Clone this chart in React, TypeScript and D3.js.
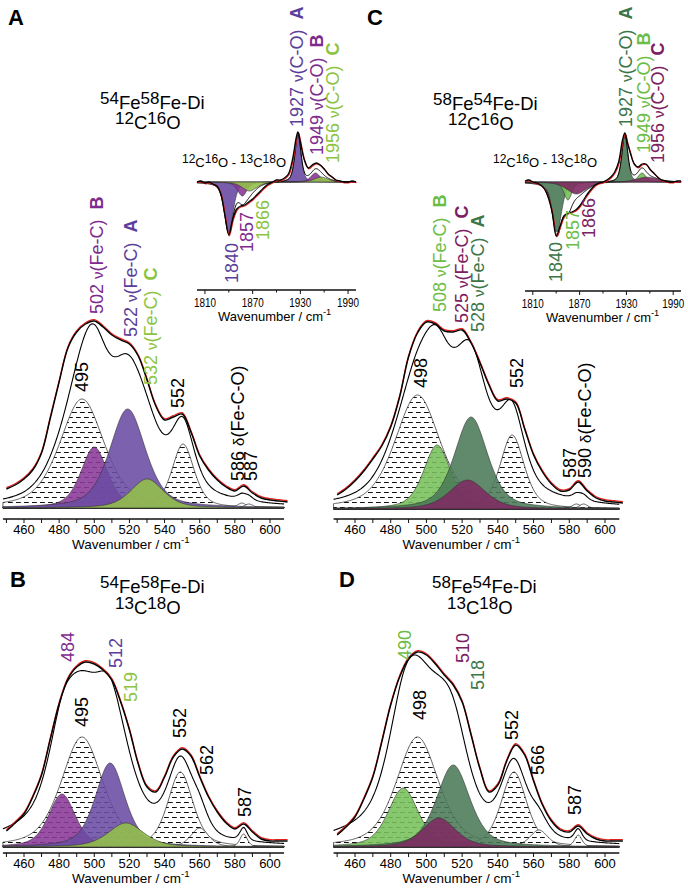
import React from "react";
import * as d3 from "d3";

const FONT = '"Liberation Sans", Arial, Helvetica, sans-serif';

// ---------------- Main spectra (wavenumber cm-1, intensity a.u.) ----------------
const mainWn = [450, 455, 460, 465, 470, 475, 480, 485, 490, 495, 500, 505, 510, 515, 520, 525, 530, 535, 540, 545, 550, 555, 560, 565, 570, 575, 580, 585, 590, 595, 600, 605, 610];
const spectrumA = [19, 23, 29, 38, 55, 90, 126, 160, 176, 184, 187, 181, 173, 168, 164, 152, 128, 102, 88, 91, 94, 76, 52, 38, 28, 21, 17, 22, 15, 10, 8, 7, 6];
const spectrumB = [16, 24, 33, 50, 72, 108, 143, 168, 180, 185, 183, 177, 167, 145, 117, 83, 60, 55, 70, 90, 98, 91, 70, 50, 35, 24, 18, 23, 15, 8, 6, 6, 6];
const spectrumC = [14, 20, 28, 38, 50, 63, 82, 112, 152, 176, 187, 185, 178, 177, 179, 166, 146, 124, 108, 110, 106, 80, 54, 37, 25, 18, 19, 27, 18, 11, 8, 7, 6];
const spectrumD = [12, 20, 30, 48, 70, 105, 142, 170, 188, 195, 192, 183, 172, 162, 145, 112, 78, 55, 62, 86, 102, 92, 66, 42, 26, 17, 15, 21, 13, 8, 6, 6, 6];

// ---------------- Fitted components: [centre cm-1, height, half-width] ----------------
const fitA_hatched = [[493, 109, 15], [550.5, 64, 7.5], [584, 5, 3], [588, 4, 3]];
const fitA_speciesA = [[519, 99, 12]];
const fitA_speciesB = [[500, 61, 9]];
const fitA_speciesC = [[530, 29, 11]];
const fitA_background = [[535, 14, 30]];

const fitB_hatched = [[493, 110, 14], [549, 75, 8.5], [560, 19, 6], [585, 13, 2.5]];
const fitB_speciesA = [[509, 84, 10]];
const fitB_speciesB = [[481.6, 53, 9]];
const fitB_speciesC = [[518, 24, 12]];
const fitB_background = [[490, 25, 35]];

const fitC_hatched = [[495, 114, 15], [548, 74, 8], [584, 5, 3], [588, 5, 3]];
const fitC_speciesA = [[525, 92, 11]];
const fitC_speciesB = [[506, 64, 9]];
const fitC_speciesC = [[523, 29, 12]];
const fitC_background = [[525, 20, 35]];

const fitD_hatched = [[495, 110, 14], [549, 75, 8.5], [563, 17, 6], [585, 12, 2.5]];
const fitD_speciesA = [[515, 82, 11]];
const fitD_speciesB = [[487, 59, 10]];
const fitD_speciesC = [[507, 29, 11]];
const fitD_background = [[485, 18, 35]];

// ---------------- Inset difference spectra (12C16O - 13C18O) ----------------
const insetWnA = [1800, 1805, 1810, 1815, 1820, 1825, 1830, 1835, 1840, 1845, 1850, 1855, 1860, 1865, 1870, 1875, 1880, 1885, 1890, 1895, 1900, 1905, 1910, 1915, 1920, 1925, 1927, 1930, 1935, 1940, 1945, 1950, 1955, 1960, 1965, 1970, 1975, 1980, 1985, 1990, 1995, 2000];
const insetSpecA = [0, 1, -1, 0, -2, -4, -12, -33, -53, -37, -27, -24, -23, -20, -17, -13, -9, -5, -2, 0, 2, 2, 4, 8, 22, 45, 50, 40, 22, 14, 17, 19, 17, 13, 8, 5, 2, 1, 0, 0, 1, 0];
const insetWnC = [1800, 1805, 1810, 1815, 1820, 1825, 1830, 1835, 1840, 1845, 1850, 1855, 1860, 1865, 1870, 1875, 1880, 1885, 1890, 1895, 1900, 1905, 1910, 1915, 1920, 1925, 1928, 1931, 1935, 1940, 1945, 1950, 1955, 1960, 1965, 1970, 1975, 1980, 1985, 1990, 1995, 2000];
const insetSpecC = [1, 2, 0, -1, -3, -7, -16, -31, -54, -44, -34, -31, -30, -28, -24, -18, -12, -7, -3, -1, 0, 2, 5, 10, 20, 42, 49, 40, 29, 18, 15, 18, 18, 13, 9, 5, 2, 1, 0, 0, 1, 1];

const insetA_speciesA = [[1927, 48, 4.5], [1840, -50, 6.5]];
const insetA_speciesB = [[1949, 9, 7], [1857, -14, 7]];
const insetA_speciesC = [[1956, 5, 10], [1866, -9, 11]];
const insetC_speciesA = [[1928, 47, 4.5], [1841, -50, 7]];
const insetC_speciesB = [[1950, 9, 6], [1855, -18, 6]];
const insetC_speciesC = [[1956, 5, 16], [1866, -12, 15]];

// ---------------- Tick labels ----------------
const mainTickLabels = [460, 480, 500, 520, 540, 560, 580, 600];
const mainMinorTicks = [450, 470, 490, 510, 530, 550, 570, 590];
const insetTickLabels = [1810, 1870, 1930, 1990];
const insetMinorTicks = [1840, 1900, 1960];

// ---------------- Peak labels ----------------
type LabelSpec = { num: string; sym?: string; mode?: string; tag?: string; key: string };
const labelsA: LabelSpec[] = [
  { num: "502", sym: "ν", mode: "(Fe-C)", tag: "B", key: "B" },
  { num: "522", sym: "ν", mode: "(Fe-C)", tag: "A", key: "A" },
  { num: "532", sym: "ν", mode: "(Fe-C)", tag: "C", key: "C" },
  { num: "495", key: "K" },
  { num: "552", key: "K" },
  { num: "586", sym: "δ", mode: "(Fe-C-O)", key: "K" },
  { num: "587", key: "K" },
];
const labelsInsetA: LabelSpec[] = [
  { num: "1927", sym: "ν", mode: "(C-O)", tag: "A", key: "A" },
  { num: "1949", sym: "ν", mode: "(C-O)", tag: "B", key: "B" },
  { num: "1956", sym: "ν", mode: "(C-O)", tag: "C", key: "C" },
  { num: "1840", key: "A" },
  { num: "1857", key: "B" },
  { num: "1866", key: "C" },
];
const labelsC: LabelSpec[] = [
  { num: "508", sym: "ν", mode: "(Fe-C)", tag: "B", key: "B" },
  { num: "525", sym: "ν", mode: "(Fe-C)", tag: "C", key: "C" },
  { num: "528", sym: "ν", mode: "(Fe-C)", tag: "A", key: "A" },
  { num: "498", key: "K" },
  { num: "552", key: "K" },
  { num: "587", key: "K" },
  { num: "590", sym: "δ", mode: "(Fe-C-O)", key: "K" },
];
const labelsInsetC: LabelSpec[] = [
  { num: "1927", sym: "ν", mode: "(C-O)", tag: "A", key: "A" },
  { num: "1949", sym: "ν", mode: "(C-O)", tag: "B", key: "B" },
  { num: "1956", sym: "ν", mode: "(C-O)", tag: "C", key: "C" },
  { num: "1840", key: "A" },
  { num: "1857", key: "B" },
  { num: "1866", key: "C" },
];
const labelsB: LabelSpec[] = [
  { num: "484", key: "B" }, { num: "512", key: "A" }, { num: "519", key: "C" },
  { num: "495", key: "K" }, { num: "552", key: "K" }, { num: "562", key: "K" }, { num: "587", key: "K" },
];
const labelsD: LabelSpec[] = [
  { num: "490", key: "B" }, { num: "510", key: "C" }, { num: "518", key: "A" },
  { num: "498", key: "K" }, { num: "552", key: "K" }, { num: "566", key: "K" }, { num: "587", key: "K" },
];

// ---------------- Layout (label anchor: centre x, bottom y) ----------------
const posA = [[97, 314], [131, 337], [151, 385], [82, 392], [178, 408], [238, 481], [251, 481]];
const posInsetA = [[297, 127], [317, 155], [333, 163], [232, 283], [247, 252], [263, 240]];
const posC = [[440, 312], [462, 323], [478, 332], [421, 388], [517, 388], [570, 478], [585, 478]];
const posInsetC = [[626, 127], [644, 153], [658, 163], [556, 282], [573, 250], [589, 238]];
const posB = [[68, 662], [116, 668], [131, 702], [82, 727], [180, 738], [207, 775], [245, 817]];
const posD = [[405, 660], [463, 663], [478, 690], [420, 720], [512, 740], [538, 775], [575, 815]];

const textLeft: Record<string, string> = { A: "#5b3e99", B: "#7e2b8f", C: "#8cc43f", K: "#000" };
const textRight: Record<string, string> = { A: "#3c7548", B: "#6cbd46", C: "#7b2060", K: "#000" };
const fillLeft: Record<string, string> = { A: "#6a4ba3", B: "#8a3898", C: "#93c04a" };
const fillRight: Record<string, string> = { A: "#4a7a56", B: "#76c05a", C: "#7e2a62" };

type Peak = number[];
const pv = (x: number, p: Peak) => {
  const t = (x - p[0]) / p[2];
  return p[1] * (0.5 / (1 + t * t) + 0.5 * Math.exp(-Math.LN2 * t * t));
};
const sumAt = (x: number, peaks: Peak[]) => peaks.reduce((s, p) => s + pv(x, p), 0);

function RotLabel({ x, y, spec, color }: { x: number; y: number; spec: LabelSpec; color: string }) {
  return (
    <text transform={`translate(${x},${y}) rotate(-90)`} dominantBaseline="central" fill={color} fontSize={18} fontFamily={FONT}>
      {spec.num}
      {spec.sym && <tspan dx={5} fontSize={15}>{spec.sym}</tspan>}
      {spec.mode && <tspan>{spec.mode}</tspan>}
      {spec.tag && <tspan dx={10} fontWeight="bold">{spec.tag}</tspan>}
    </text>
  );
}

function Chem({ x, y, tokens, big, small, rise }: { x: number; y: number; tokens: string[]; big: number; small: number; rise: number }) {
  let cur = 0;
  return (
    <text x={x} y={y} fontSize={big} fontFamily={FONT} style={{ whiteSpace: "pre" }}>
      {tokens.map((t, i) => {
        const sup = /^\d+$/.test(t);
        const target = sup ? -rise : 0;
        const dy = target - cur;
        cur = target;
        return (
          <tspan key={i} dy={dy} fontSize={sup ? small : big}>{t}</tspan>
        );
      })}
    </text>
  );
}

function AxisTitle({ x, y, size }: { x: number; y: number; size: number }) {
  return (
    <text x={x} y={y} fontSize={size} fontFamily={FONT}>
      Wavenumber / cm<tspan dy={-6} fontSize={size * 0.72}>-1</tspan>
    </text>
  );
}

function MainPanel(props: {
  xs: d3.ScaleLinear<number, number>; y0: number; axisY: number;
  spec: number[]; hatched: Peak[]; species: { peaks: Peak[]; key: string }[]; background: Peak[];
  fills: Record<string, string>; colors: Record<string, string>;
  labels: LabelSpec[]; pos: number[][];
}) {
  const { xs, y0, axisY, spec, hatched, species, background, fills, colors, labels, pos } = props;
  const ys = d3.scaleLinear().domain([0, 200]).range([y0, y0 - 200]);
  const grid = d3.range(448, 608.01, 0.5);
  const areaOf = (peaks: Peak[]) =>
    d3.area<number>().x((w) => xs(w)).y0(ys(0)).y1((w) => ys(sumAt(w, peaks)))(grid) || "";
  const all = [...hatched, ...species.flatMap((s) => s.peaks), ...background];
  const sumLine = d3.line<number>().x((w) => xs(w)).y((w) => ys(sumAt(w, all)))(grid) || "";
  const dataLine = d3.line<number>().x((_, i) => xs(mainWn[i])).y((v) => ys(v)).curve(d3.curveCatmullRom.alpha(0.5))(spec) || "";
  return (
    <g>
      {hatched.map((p, i) => (
        <path key={"h" + i} d={areaOf([p])} fill="url(#hatch)" stroke="#222" strokeWidth={0.7} />
      ))}
      {species.map((s, i) => (
        <path key={"s" + i} d={areaOf(s.peaks)} fill={fills[s.key]} fillOpacity={0.88} stroke="#333" strokeWidth={0.6} />
      ))}
      <path d={sumLine} fill="none" stroke="#000" strokeWidth={1.1} />
      <path d={dataLine} fill="none" stroke="#e3201b" strokeWidth={1.3} transform="translate(0,-1.3)" />
      <path d={dataLine} fill="none" stroke="#000" strokeWidth={1.4} />
      <line x1={xs(448)} x2={xs(608)} y1={axisY} y2={axisY} stroke="#111" strokeWidth={1.5} />
      {[...mainTickLabels, ...mainMinorTicks].map((t) => (
        <line key={"t" + t} x1={xs(t)} x2={xs(t)} y1={axisY} y2={axisY + 4} stroke="#111" strokeWidth={1} />
      ))}
      {mainTickLabels.map((t) => (
        <text key={"l" + t} x={xs(t)} y={axisY + 15} textAnchor="middle" fontSize={13} fontFamily={FONT}>{t}</text>
      ))}
      <AxisTitle x={xs(448) + 69} y={axisY + 30} size={13.5} />
      {labels.map((l, i) => (
        <RotLabel key={"lab" + i} x={pos[i][0]} y={pos[i][1]} spec={l} color={colors[l.key]} />
      ))}
    </g>
  );
}

function Inset(props: {
  xs: d3.ScaleLinear<number, number>; y0: number; axisY: number;
  wn: number[]; spec: number[]; species: { peaks: Peak[]; key: string }[];
  fills: Record<string, string>; colors: Record<string, string>;
  labels: LabelSpec[]; pos: number[][]; noteX: number;
}) {
  const { xs, y0, axisY, wn, spec, species, fills, colors, labels, pos, noteX } = props;
  const ys = d3.scaleLinear().domain([-60, 60]).range([y0 + 60, y0 - 60]);
  const grid = d3.range(1800, 2000.01, 0.5);
  const areaOf = (peaks: Peak[]) =>
    d3.area<number>().x((w) => xs(w)).y0(ys(0)).y1((w) => ys(sumAt(w, peaks)))(grid) || "";
  const all = species.flatMap((s) => s.peaks);
  const sumLine = d3.line<number>().x((w) => xs(w)).y((w) => ys(sumAt(w, all)))(grid) || "";
  const dataLine = d3.line<number>().x((_, i) => xs(wn[i])).y((v) => ys(v)).curve(d3.curveCatmullRom.alpha(0.5))(spec) || "";
  return (
    <g>
      {species.map((s, i) => (
        <path key={"s" + i} d={areaOf(s.peaks)} fill={fills[s.key]} fillOpacity={0.9} stroke="#333" strokeWidth={0.6} />
      ))}
      <path d={sumLine} fill="none" stroke="#000" strokeWidth={1} />
      <path d={dataLine} fill="none" stroke="#e3201b" strokeWidth={1.2} transform="translate(0.6,0.8)" />
      <path d={dataLine} fill="none" stroke="#000" strokeWidth={1.3} />
      <line x1={xs(1800)} x2={xs(2000)} y1={axisY} y2={axisY} stroke="#111" strokeWidth={1.3} />
      {insetTickLabels.map((t) => (
        <line key={"t" + t} x1={xs(t)} x2={xs(t)} y1={axisY} y2={axisY + 4} stroke="#111" strokeWidth={1} />
      ))}
      {insetMinorTicks.map((t) => (
        <line key={"m" + t} x1={xs(t)} x2={xs(t)} y1={axisY} y2={axisY + 2.5} stroke="#111" strokeWidth={1} />
      ))}
      {insetTickLabels.map((t) => (
        <text key={"l" + t} x={xs(t)} y={axisY + 17} textAnchor="middle" fontSize={13} fontFamily={FONT}
          textLength={22} lengthAdjust="spacingAndGlyphs">{t}</text>
      ))}
      <AxisTitle x={xs(1800) + 21} y={axisY + 31} size={13} />
      <Chem x={noteX} y={y0 - 15} tokens={["12", "C", "16", "O", " - ", "13", "C", "18", "O"]} big={13} small={12} rise={4} />
      {labels.map((l, i) => (
        <RotLabel key={"lab" + i} x={pos[i][0]} y={pos[i][1]} spec={l} color={colors[l.key]} />
      ))}
    </g>
  );
}

export default function App() {
  const xsLeft = d3.scaleLinear().domain([460, 600]).range([24, 270]);
  const xsRight = d3.scaleLinear().domain([460, 600]).range([355, 605]);
  const xiA = d3.scaleLinear().domain([1800, 2000]).range([197, 356]);
  const xiC = d3.scaleLinear().domain([1800, 2000]).range([525, 681]);
  return (
    <svg width={688} height={893} style={{ position: "absolute", left: 0, top: 0, background: "#fff" }} fontFamily={FONT}>
      <defs>
        <pattern id="hatch" width={8} height={10} patternUnits="userSpaceOnUse">
          <rect width={8} height={10} fill="#fff" />
          <line x1={0} x2={4.8} y1={2.5} y2={2.5} stroke="#111" strokeWidth={1} />
          <line x1={4} x2={8.8} y1={7.5} y2={7.5} stroke="#111" strokeWidth={1} />
          <line x1={-0.5} x2={0.8} y1={7.5} y2={7.5} stroke="#111" strokeWidth={1} />
        </pattern>
      </defs>
      <rect width={688} height={893} fill="#fff" />

      {/* Panel letters */}
      <text x={8} y={25} fontSize={22} fontWeight="bold">A</text>
      <text x={367} y={25} fontSize={22} fontWeight="bold">C</text>
      <text x={10} y={587} fontSize={22} fontWeight="bold">B</text>
      <text x={339} y={587} fontSize={22} fontWeight="bold">D</text>

      {/* Titles */}
      <Chem x={100} y={109} tokens={["54", "Fe", "58", "Fe-Di"]} big={18.5} small={17} rise={5} />
      <Chem x={115} y={129} tokens={["12", "C", "16", "O"]} big={18.5} small={17} rise={5} />
      <Chem x={433} y={110} tokens={["58", "Fe", "54", "Fe-Di"]} big={18.5} small={17} rise={5} />
      <Chem x={448} y={130} tokens={["12", "C", "16", "O"]} big={18.5} small={17} rise={5} />
      <Chem x={100} y={593} tokens={["54", "Fe", "58", "Fe-Di"]} big={18.5} small={17} rise={5} />
      <Chem x={115} y={614} tokens={["13", "C", "18", "O"]} big={18.5} small={17} rise={5} />
      <Chem x={432} y={593} tokens={["58", "Fe", "54", "Fe-Di"]} big={18.5} small={17} rise={5} />
      <Chem x={447} y={614} tokens={["13", "C", "18", "O"]} big={18.5} small={17} rise={5} />

      <Inset xs={xiA} y0={182} axisY={290} wn={insetWnA} spec={insetSpecA}
        species={[{ peaks: insetA_speciesA, key: "A" }, { peaks: insetA_speciesB, key: "B" }, { peaks: insetA_speciesC, key: "C" }]}
        fills={fillLeft} colors={textLeft} labels={labelsInsetA} pos={posInsetA} noteX={182} />
      <Inset xs={xiC} y0={182} axisY={291} wn={insetWnC} spec={insetSpecC}
        species={[{ peaks: insetC_speciesA, key: "A" }, { peaks: insetC_speciesB, key: "B" }, { peaks: insetC_speciesC, key: "C" }]}
        fills={fillRight} colors={textRight} labels={labelsInsetC} pos={posInsetC} noteX={493} />

      <MainPanel xs={xsLeft} y0={508} axisY={519} spec={spectrumA} hatched={fitA_hatched} background={fitA_background}
        species={[{ peaks: fitA_speciesB, key: "B" }, { peaks: fitA_speciesA, key: "A" }, { peaks: fitA_speciesC, key: "C" }]}
        fills={fillLeft} colors={textLeft} labels={labelsA} pos={posA} />
      <MainPanel xs={xsRight} y0={509} axisY={519} spec={spectrumC} hatched={fitC_hatched} background={fitC_background}
        species={[{ peaks: fitC_speciesB, key: "B" }, { peaks: fitC_speciesA, key: "A" }, { peaks: fitC_speciesC, key: "C" }]}
        fills={fillRight} colors={textRight} labels={labelsC} pos={posC} />
      <MainPanel xs={xsLeft} y0={847} axisY={853} spec={spectrumB} hatched={fitB_hatched} background={fitB_background}
        species={[{ peaks: fitB_speciesB, key: "B" }, { peaks: fitB_speciesA, key: "A" }, { peaks: fitB_speciesC, key: "C" }]}
        fills={fillLeft} colors={textLeft} labels={labelsB} pos={posB} />
      <MainPanel xs={xsRight} y0={847} axisY={853} spec={spectrumD} hatched={fitD_hatched} background={fitD_background}
        species={[{ peaks: fitD_speciesB, key: "B" }, { peaks: fitD_speciesA, key: "A" }, { peaks: fitD_speciesC, key: "C" }]}
        fills={fillRight} colors={textRight} labels={labelsD} pos={posD} />
    </svg>
  );
}
